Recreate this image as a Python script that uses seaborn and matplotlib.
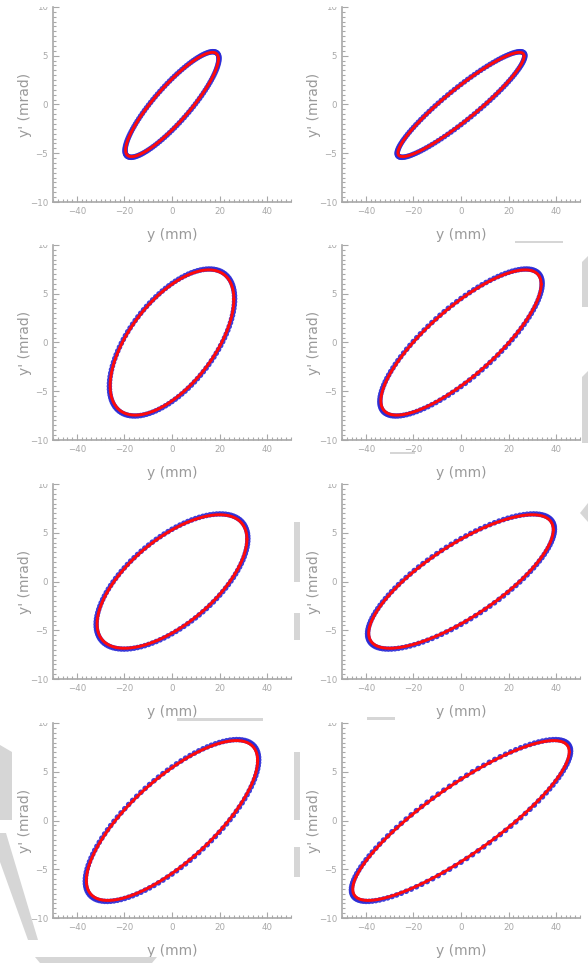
import numpy as np
import pandas as pd
import seaborn as sns
import matplotlib
matplotlib.use("Agg")
import matplotlib.pyplot as plt
from matplotlib.ticker import MultipleLocator, FixedLocator
from matplotlib.patches import Polygon
from matplotlib.transforms import Bbox, TransformedBbox

# phase-space ellipse of each panel
# order: row by row, left panel then right panel
y_max = [19.5, 26.5, 26.0, 33.7, 31.5, 38.8, 36.0, 45.5]        # mm, widest point
yp_max = [5.35, 5.35, 7.45, 7.45, 6.85, 6.85, 8.2, 8.2]         # mrad, highest point
y_at_yp_max = [17.0, 24.5, 15.5, 27.0, 20.0, 30.0, 27.0, 39.0]  # mm, where y' peaks
n_particles = 120

x_ticks = [-40, -20, 0, 20, 40]
y_ticks = [-10, -5, 0, 5, 10]

W, H = 588, 963
tick_grey = "#a8a8a8"
label_grey = "#9a9a9a"

sns.set_style("white")
plt.rcParams["font.family"] = ["DejaVu Sans"]

fig = plt.figure(figsize=(W / 100, H / 100), dpi=100)

col_left = [53, 342]
row_top = [7, 245, 484, 723]
ax_w, ax_h = 238, 195


def ellipse(i, n, scale=1.0):
    t = np.linspace(0, 2 * np.pi, n, endpoint=False)
    phi = np.arccos(y_at_yp_max[i] / y_max[i])
    return pd.DataFrame({"y": scale * y_max[i] * np.cos(t),
                         "yp": scale * yp_max[i] * np.cos(t - phi)})


for i in range(8):
    r, c = divmod(i, 2)
    left = col_left[c] / W
    bottom = 1 - (row_top[r] + ax_h) / H
    ax = fig.add_axes([left, bottom, ax_w / W, ax_h / H])

    dots = ellipse(i, n_particles, 1.012)
    curve = ellipse(i, 200)
    curve = pd.concat([curve, curve.iloc[:1]], ignore_index=True)

    sns.scatterplot(data=dots, x="y", y="yp", ax=ax, color="#2b2bd6",
                    s=16, edgecolor="none", alpha=0.9, zorder=2)
    sns.lineplot(data=curve, x="y", y="yp", ax=ax, sort=False,
                 estimator=None, color="#ff0a0a", lw=2.1, zorder=3)

    ax.set_xlim(-50, 50)
    ax.set_ylim(-10, 10)
    ax.xaxis.set_major_locator(FixedLocator(x_ticks))
    ax.yaxis.set_major_locator(FixedLocator(y_ticks))
    ax.xaxis.set_minor_locator(MultipleLocator(2))
    ax.yaxis.set_minor_locator(MultipleLocator(0.5))
    ax.tick_params(which="both", direction="in", colors=tick_grey,
                   bottom=True, left=True, top=False, right=False,
                   labelsize=6.2, pad=3.5, width=0.8)
    ax.tick_params(which="major", length=4.5)
    ax.tick_params(which="minor", length=2.4)
    for side in ["top", "right"]:
        ax.spines[side].set_visible(False)
    for side in ["left", "bottom"]:
        ax.spines[side].set_color(tick_grey)
        ax.spines[side].set_linewidth(1.2)

    ax.set_xlabel("y (mm)", fontsize=10, color=label_grey)
    ax.set_ylabel("y' (mrad)", fontsize=10, color=label_grey)
    ax.xaxis.set_label_coords(0.5, -26 / ax_h)
    ax.xaxis.label.set_va("top")
    ax.yaxis.set_label_coords(-21 / ax_w, 0.5)

# light grey shapes showing through the gaps between the panels
px = [
    [(582, 262), (588, 256), (588, 307), (582, 307)],
    [(582, 377), (588, 371), (588, 443), (582, 443)],
    [(588, 503), (580, 513), (588, 522)],
    [(294, 522), (300, 522), (300, 582), (294, 582)],
    [(294, 613), (300, 613), (300, 640), (294, 640)],
    [(294, 752), (300, 752), (300, 820), (294, 820)],
    [(294, 847), (300, 847), (300, 877), (294, 877)],
    [(0, 745), (12, 752), (12, 820), (0, 820)],
    [(0, 833), (6, 833), (38, 940), (28, 940), (0, 862)],
    [(35, 957), (157, 957), (152, 963), (40, 963)],
    [(177, 718), (263, 718), (263, 721), (177, 721)],
    [(367, 717), (395, 717), (395, 720), (367, 720)],
    [(390, 452), (415, 452), (415, 454), (390, 454)],
    [(515, 241), (563, 241), (563, 243), (515, 243)],
]
for pts in px:
    fig.add_artist(Polygon([(x / W, 1 - y / H) for x, y in pts], closed=True,
                           transform=fig.transFigure, facecolor="#d6d6d6",
                           edgecolor="none", zorder=5))

# the top "10" label is cut at the top edge of each panel
fig.canvas.draw()
for ax in fig.axes:
    clip = TransformedBbox(Bbox([[-1, -1], [1, 1]]), ax.transAxes)
    for tick in ax.yaxis.get_major_ticks():
        tick.label1.set_clip_box(clip)
        tick.label1.set_clip_on(True)

fig.savefig("out.png", dpi=100)
